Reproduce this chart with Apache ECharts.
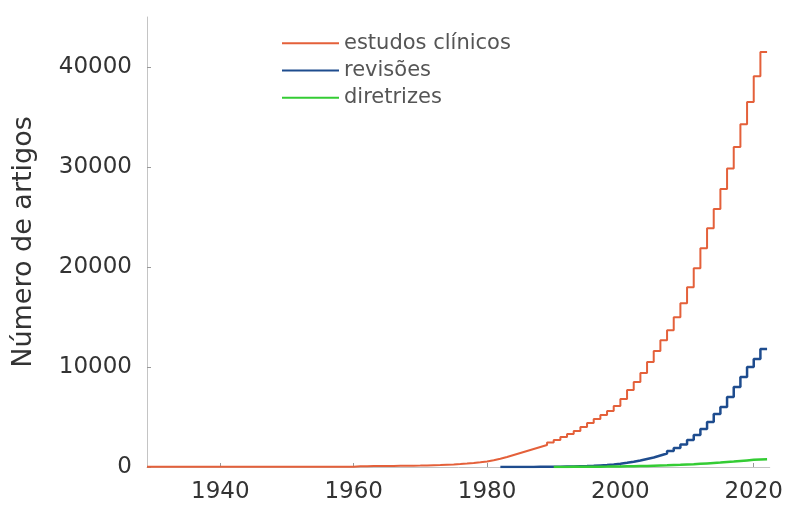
<!DOCTYPE html>
<html>
<head>
<meta charset="utf-8">
<script src="https://cdn.jsdelivr.net/npm/echarts@6/dist/echarts.min.js"></script>
<style>
  html, body { margin: 0; padding: 0; background: #fff; }
  #chart { width: 786px; height: 510px; }
</style>
</head>
<body>
<div id="chart"></div>
<script>
// nomes das séries
var seriesNames = ["estudos clínicos", "revisões", "diretrizes"];
var xTicks = [1940, 1960, 1980, 2000, 2020];
var yTicks = [0, 10000, 20000, 30000, 40000];

// estudos clínicos, 1929 - 2022
var clinicosStart = 1929;
var clinicos = [
  20, 20, 20, 20, 20, 20, 20, 20, 20, 20, 20, 20, 20, 20, 20, 20,
  20, 20, 20, 20, 20, 20, 20, 20, 20, 20, 20, 20, 20, 20, 20, 20,
  80, 85, 90, 95, 100, 110, 115, 120, 130, 140, 160, 180,
  200, 230, 260, 300, 350, 410, 480, 560, 680, 820,
  1000, 1200, 1400, 1600, 1800, 2000, 2200, 2450, 2700, 3000, 3300, 3600, 4000, 4400, 4800, 5200, 5600,
  6100, 6800, 7700, 8500, 9400, 10500, 11600, 12670, 13670, 14970, 16370, 17970,
  19870, 21870, 23870, 25800, 27800, 29840, 32000, 34270, 36500, 39070, 41500
];

// revisões, 1982 - 2022
var revisoesStart = 1982;
var revisoes = [
  10, 10, 10, 10, 10, 10, 15, 15,
  20, 30, 40, 50, 70, 90, 120, 160, 200, 260,
  330, 420, 520, 650, 800, 950, 1150, 1350, 1600, 1900, 2250, 2700,
  3200, 3800, 4500, 5300, 6000, 7000, 8000, 9000, 10000, 10800, 11800
];

// diretrizes, 1990 - 2022
var diretrizesStart = 1990;
var diretrizes = [
  5, 8, 10, 15, 20, 25, 30, 35, 40, 50,
  60, 70, 80, 95, 110, 130, 150, 170, 200, 220,
  250, 280, 320, 360, 400, 440, 490, 540, 600, 660,
  720, 760, 780
];

function pares(start, vals) {
  return vals.map(function (v, i) { return [start + i, v]; });
}

var chart = echarts.init(document.getElementById("chart"));
var font = "DejaVu Sans";

function serie(name, start, vals, color, width) {
  return {
    name: name,
    type: "line",
    step: "start",
    symbol: "none",
    data: pares(start, vals),
    lineStyle: { color: color, width: width },
    itemStyle: { color: color }
  };
}

var option = {
  animation: false,
  grid: { left: 147, right: 16, top: 17, bottom: 43 },
  legend: {
    orient: "vertical",
    left: 282,
    top: 32,
    padding: 0,
    icon: "rect",
    itemWidth: 57,
    itemHeight: 2,
    itemGap: 5,
    textStyle: { fontFamily: font, fontSize: 21, color: "#555", lineHeight: 22.3 },
    data: seriesNames
  },
  xAxis: {
    type: "value",
    min: 1929,
    max: 2022.4,
    axisLine: { lineStyle: { color: "#c4c4c4", width: 1 } },
    axisTick: { inside: true, length: 4, customValues: xTicks, lineStyle: { color: "#999" } },
    axisLabel: {
      customValues: xTicks,
      margin: 14,
      fontFamily: font,
      fontSize: 23,
      color: "#333",
      formatter: function (v) { return String(v); }
    },
    splitLine: { show: false }
  },
  yAxis: {
    type: "value",
    min: 0,
    max: 45000,
    name: "Número de artigos",
    nameLocation: "middle",
    nameGap: 110,
    nameTextStyle: { fontFamily: font, fontSize: 27, color: "#333" },
    axisLine: { show: true, lineStyle: { color: "#c4c4c4", width: 1 } },
    axisTick: { show: true, inside: true, length: 4, customValues: yTicks, lineStyle: { color: "#999" } },
    axisLabel: {
      customValues: yTicks,
      margin: 15,
      fontFamily: font,
      fontSize: 23,
      color: "#333",
      formatter: function (v) { return String(v); }
    },
    splitLine: { show: false }
  },
  series: [
    serie(seriesNames[0], clinicosStart, clinicos, "#e4603a", 2),
    serie(seriesNames[1], revisoesStart, revisoes, "#1e4c8e", 2.5),
    serie(seriesNames[2], diretrizesStart, diretrizes, "#34cc34", 2.5)
  ]
};

chart.setOption(option);
</script>
</body>
</html>
